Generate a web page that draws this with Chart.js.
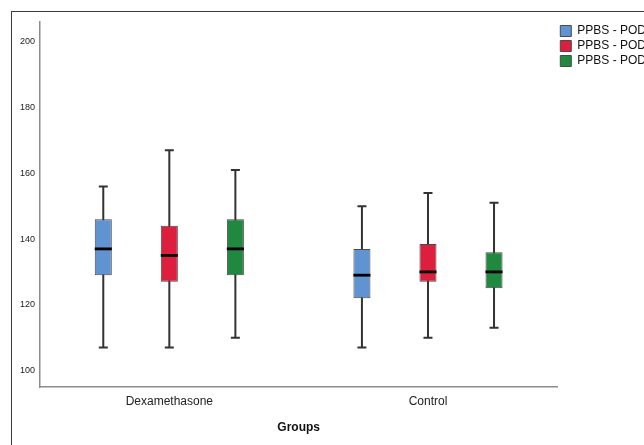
<!DOCTYPE html>
<html>
<head>
<meta charset="utf-8">
<script src="https://cdn.jsdelivr.net/npm/chart.js@4.4.0/dist/chart.umd.min.js"></script>
<style>
  html, body { margin: 0; padding: 0; background: #fff; overflow: hidden; }
  #frame { position: absolute; left: 11px; top: 11px; width: 720px; height: 500px; border: 1px solid #3a3a3a; }
  #wrap { position: absolute; left: 0; top: 0; width: 700px; height: 445px; }
</style>
</head>
<body>
<div id="frame"></div>
<div id="wrap"><canvas id="chart"></canvas></div>
<script>
/* Box plot PPBS por grupo - caixas como barras flutuantes, bigodes e mediana via plugin */

const categories = ['Dexamethasone', 'Control'];
const seriesNames = ['PPBS - POD 1', 'PPBS - POD 2', 'PPBS - POD 3'];
const seriesColors = ['#5f93d1', '#dd1f3d', '#21893f'];

// POD 1
const pod1Min = [107, 107];
const pod1Q1 = [129, 122];
const pod1Median = [137, 129];
const pod1Q3 = [146, 137];
const pod1Max = [156, 150];

// POD 2
const pod2Min = [107, 110];
const pod2Q1 = [127, 127];
const pod2Median = [135, 130];
const pod2Q3 = [144, 138.5];
const pod2Max = [167, 154];

// POD 3
const pod3Min = [110, 113];
const pod3Q1 = [129, 125];
const pod3Median = [137, 130];
const pod3Q3 = [146, 136];
const pod3Max = [161, 151];

const yTicks = [100, 120, 140, 160, 180, 200];

const FONT = "'Liberation Sans', Arial, sans-serif";

function montaSerie(i, q1, q3, min, median, max) {
    return {
        label: seriesNames[i],
        data: q1.map((v, k) => [v, q3[k]]),
        backgroundColor: seriesColors[i],
        borderColor: '#4a4a4a',
        borderWidth: 1,
        borderSkipped: false,
        categoryPercentage: 0.766,
        barPercentage: 0.258,
        stats: { min: min, median: median, max: max }
    };
}

// Desenha bigodes (atrás das caixas) e mediana (na frente)
const boxLines = {
    id: 'boxLines',
    beforeDatasetsDraw(chart) {
        const ctx = chart.ctx;
        const y = chart.scales.y;
        chart.data.datasets.forEach((ds, di) => {
            chart.getDatasetMeta(di).data.forEach((bar, i) => {
                const yMin = y.getPixelForValue(ds.stats.min[i]);
                const yMax = y.getPixelForValue(ds.stats.max[i]);
                ctx.save();
                ctx.strokeStyle = '#333';
                ctx.lineWidth = 2;
                ctx.beginPath();
                ctx.moveTo(bar.x, yMax);
                ctx.lineTo(bar.x, yMin);
                ctx.moveTo(bar.x - 4.5, yMax);
                ctx.lineTo(bar.x + 4.5, yMax);
                ctx.moveTo(bar.x - 4.5, yMin);
                ctx.lineTo(bar.x + 4.5, yMin);
                ctx.stroke();
                ctx.restore();
            });
        });
    },
    afterDatasetsDraw(chart) {
        const ctx = chart.ctx;
        const y = chart.scales.y;
        chart.data.datasets.forEach((ds, di) => {
            chart.getDatasetMeta(di).data.forEach((bar, i) => {
                const yMed = y.getPixelForValue(ds.stats.median[i]);
                ctx.save();
                ctx.strokeStyle = '#000';
                ctx.lineWidth = 2.8;
                ctx.beginPath();
                ctx.moveTo(bar.x - bar.width / 2, yMed);
                ctx.lineTo(bar.x + bar.width / 2, yMed);
                ctx.stroke();
                ctx.restore();
            });
        });
    }
};

new Chart(document.getElementById('chart'), {
    type: 'bar',
    data: {
        labels: categories,
        datasets: [
            montaSerie(0, pod1Q1, pod1Q3, pod1Min, pod1Median, pod1Max),
            montaSerie(1, pod2Q1, pod2Q3, pod2Min, pod2Median, pod2Max),
            montaSerie(2, pod3Q1, pod3Q3, pod3Min, pod3Median, pod3Max)
        ]
    },
    options: {
        responsive: true,
        maintainAspectRatio: false,
        animation: false,
        layout: { padding: { left: 11, top: 22, right: 34, bottom: 0 } },
        plugins: {
            legend: {
                position: 'right',
                align: 'start',
                labels: {
                    boxWidth: 11,
                    boxHeight: 11,
                    padding: 3,
                    color: '#111',
                    font: { family: FONT, size: 12 }
                }
            },
            tooltip: { enabled: false }
        },
        scales: {
            x: {
                grid: { display: false, drawTicks: false },
                border: { color: '#8c8c8c', width: 1.5 },
                ticks: { color: '#222', padding: 7, font: { family: FONT, size: 12 } },
                title: {
                    display: true,
                    text: 'Groups',
                    color: '#111',
                    font: { family: FONT, size: 12, weight: 'bold' },
                    padding: { top: 0, bottom: 10 }
                },
                afterFit(scale) { scale.height = 58; }
            },
            y: {
                min: 95,
                max: 206,
                grid: { display: false, drawTicks: false },
                border: { color: '#8c8c8c', width: 1.5 },
                afterBuildTicks(scale) { scale.ticks = yTicks.map(v => ({ value: v })); },
                ticks: { color: '#222', padding: 5, font: { family: FONT, size: 9 } },
                afterFit(scale) { scale.width = 29; }
            }
        }
    },
    plugins: [boxLines]
});
</script>
</body>
</html>
